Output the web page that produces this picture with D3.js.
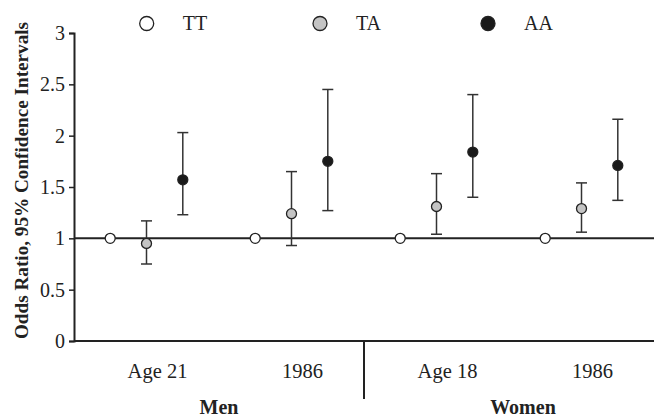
<!DOCTYPE html>
<html>
<head>
<meta charset="utf-8">
<script src="https://cdn.jsdelivr.net/npm/d3@7"></script>
<style>
  body { margin: 0; background: #fff; }
  text { font-family: "Liberation Serif", "Times New Roman", serif; fill: #222; }
</style>
</head>
<body>
<div id="chart"></div>
<script>
// chart data
var groups = ["Men|Age 21", "Men|1986", "Women|Age 18", "Women|1986"];
var groupLabels = ["Age 21", "1986", "Age 18", "1986"];
var sexes = ["Men", "Women"];
var genotypes = ["TT", "TA", "AA"];
var yTicks = [0, 0.5, 1, 1.5, 2, 2.5, 3];

// odds ratios and 95% CI per genotype, one value per group
var orTT = [1, 1, 1, 1];
var orTA = [0.95, 1.24, 1.31, 1.29];
var loTA = [0.75, 0.93, 1.04, 1.06];
var hiTA = [1.17, 1.65, 1.63, 1.54];
var orAA = [1.57, 1.75, 1.84, 1.71];
var loAA = [1.23, 1.27, 1.40, 1.37];
var hiAA = [2.03, 2.45, 2.40, 2.16];

var fills = {TT: "#ffffff", TA: "#c4c4c4", AA: "#1a1a1a"};

var width = 654, height = 417;
var margin = {top: 33, right: 0, bottom: 76, left: 74};

var svg = d3.select("#chart")
  .append("svg")
    .attr("width", width)
    .attr("height", height);

var x = d3.scaleBand()
  .domain(groups)
  .range([margin.left, width - margin.right]);

var xInner = d3.scalePoint()
  .domain(genotypes)
  .range([-36.3, 36.3]);

var y = d3.scaleLinear()
  .domain([0, 3])
  .range([height - margin.bottom, margin.top]);

// build point rows
var rows = [];
groups.forEach(function(g, i) {
  rows.push({g: g, type: "TT", or: orTT[i]});
  rows.push({g: g, type: "TA", or: orTA[i], lo: loTA[i], hi: hiTA[i]});
  rows.push({g: g, type: "AA", or: orAA[i], lo: loAA[i], hi: hiAA[i]});
});
function px(d) { return x(d.g) + x.bandwidth() / 2 + xInner(d.type); }

// y axis
var yAxis = svg.append("g")
  .attr("transform", "translate(" + margin.left + ",0)")
  .call(d3.axisLeft(y).tickValues(yTicks).tickSize(5).tickPadding(4).tickFormat(d3.format("")));
yAxis.select(".domain").attr("stroke", "#222").attr("stroke-width", 2);
yAxis.selectAll(".tick line").attr("stroke", "#222").attr("stroke-width", 1.5);
yAxis.selectAll(".tick text")
  .style("font-family", "'Liberation Serif', serif")
  .style("font-size", "20px")
  .attr("fill", "#222");

// x axis line
svg.append("line")
  .attr("x1", margin.left).attr("x2", width)
  .attr("y1", y(0)).attr("y2", y(0))
  .attr("stroke", "#222").attr("stroke-width", 2);

// reference line at 1
svg.append("line")
  .attr("x1", margin.left).attr("x2", width)
  .attr("y1", y(1)).attr("y2", y(1))
  .attr("stroke", "#222").attr("stroke-width", 2);

// divider between men and women
svg.append("line")
  .attr("x1", x(groups[2])).attr("x2", x(groups[2]))
  .attr("y1", y(0)).attr("y2", y(0) + 58)
  .attr("stroke", "#222").attr("stroke-width", 2);

// error bars
var ci = rows.filter(function(d) { return d.lo != null; });
var bars = svg.append("g").attr("stroke", "#333").attr("stroke-width", 1.5);
bars.selectAll(".v").data(ci).enter().append("line")
  .attr("x1", px).attr("x2", px)
  .attr("y1", function(d) { return y(d.lo); })
  .attr("y2", function(d) { return y(d.hi); });
["lo", "hi"].forEach(function(k) {
  bars.selectAll(".c" + k).data(ci).enter().append("line")
    .attr("x1", function(d) { return px(d) - 5.5; })
    .attr("x2", function(d) { return px(d) + 5.5; })
    .attr("y1", function(d) { return y(d[k]); })
    .attr("y2", function(d) { return y(d[k]); });
});

// points
svg.selectAll(".pt").data(rows).enter().append("circle")
  .attr("cx", px)
  .attr("cy", function(d) { return y(d.or); })
  .attr("r", 5)
  .attr("fill", function(d) { return fills[d.type]; })
  .attr("stroke", "#222")
  .attr("stroke-width", 1.3);

// group labels
svg.selectAll(".gl").data(groups).enter().append("text")
  .attr("x", function(d) { return x(d) + x.bandwidth() / 2 + 11; })
  .attr("y", 378)
  .attr("text-anchor", "middle")
  .style("font-size", "20.5px")
  .text(function(d, i) { return groupLabels[i]; });

// sex labels
svg.selectAll(".sl").data(sexes).enter().append("text")
  .attr("x", function(d, i) { return i == 0 ? 219 : 523; })
  .attr("y", 414)
  .attr("text-anchor", "middle")
  .style("font-size", "20px")
  .style("font-weight", "bold")
  .text(function(d) { return d; });

// y title
svg.append("text")
  .attr("transform", "translate(28,180.5) rotate(-90)")
  .attr("text-anchor", "middle")
  .style("font-size", "19.2px")
  .style("font-weight", "bold")
  .text("Odds Ratio, 95% Confidence Intervals");

// legend
var legX = [146.7, 320, 488];
var leg = svg.selectAll(".lg").data(genotypes).enter().append("g")
  .attr("transform", function(d, i) { return "translate(" + legX[i] + ",23.5)"; });
leg.append("circle")
  .attr("r", 7)
  .attr("fill", function(d) { return fills[d]; })
  .attr("stroke", "#222")
  .attr("stroke-width", 1.3);
leg.append("text")
  .attr("x", 36)
  .attr("y", 6.5)
  .style("font-size", "20px")
  .text(function(d) { return d; });
</script>
</body>
</html>
